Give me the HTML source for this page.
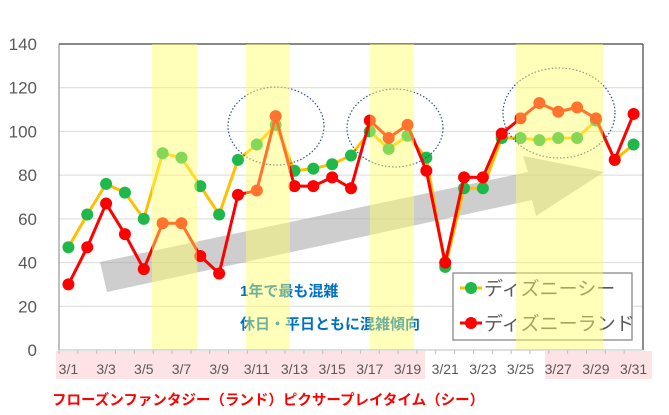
<!DOCTYPE html>
<html><head><meta charset="utf-8"><style>
body{margin:0;background:#fff}
svg{display:block;font-family:"Liberation Sans","Noto Sans CJK JP",sans-serif}
</style></head><body>
<svg id="chart" width="669" height="415" viewBox="0 0 669 415" xmlns="http://www.w3.org/2000/svg">
<g id="bg"></g>
<g id="grid"></g>
<g id="arrow"></g>
<g id="series"></g>
<g id="legend"></g>
<g id="ann"></g>
<g id="bands"></g>
<g id="axis"></g>
</svg>
<script>
const categories = ["3/1","3/2","3/3","3/4","3/5","3/6","3/7","3/8","3/9","3/10","3/11","3/12","3/13","3/14","3/15","3/16","3/17","3/18","3/19","3/20","3/21","3/22","3/23","3/24","3/25","3/26","3/27","3/28","3/29","3/30","3/31"];
const seaValues = [47,62,76,72,60,90,88,75,62,87,94,103,82,83,85,89,100,92,98,88,38,74,74,97,97,96,97,97,105,87,94];
const landValues = [30,47,67,53,37,58,58,43,35,71,73,107,75,75,79,74,105,97,103,82,40,79,79,99,106,113,109,111,106,87,108];
const yTicks = [0,20,40,60,80,100,120,140];
const seriesNames = ["ディズニーシー","ディズニーランド"];

const NS="http://www.w3.org/2000/svg";
const L=59,R=643,T=44,B=350,yMax=140;
const step=(R-L)/categories.length;
function xPos(i){return L+step*(i+0.5);}
function yPos(v){return B-(v/yMax)*(B-T);}
function mk(tag,attrs,parent,text){const e=document.createElementNS(NS,tag);for(const k in attrs)e.setAttribute(k,attrs[k]);if(text!==undefined)e.textContent=text;parent.appendChild(e);return e;}
const g=id=>document.getElementById(id);

let p1=mk('rect',{x:56,y:351,width:369,height:28,fill:'#fde3e6'},g('bg'));


let p2=mk('rect',{x:545,y:351,width:107,height:28,fill:'#fde3e6'},g('bg'));



yTicks.forEach(v=>{
  if(v>0&&v<yMax){let l=mk('line',{x1:L,x2:R,y1:yPos(v),y2:yPos(v),stroke:'#d9d9d9','stroke-width':1},g('grid'));
  
  }
  let t=mk('text',{x:37,y:yPos(v)+6,'text-anchor':'end','font-size':17,fill:'#595959'},g('axis'),String(v));
  
  
});
mk('line',{x1:L,x2:R,y1:T,y2:T,stroke:'#404040','stroke-width':1.2},g('grid'));
mk('line',{x1:R,x2:R,y1:T,y2:B,stroke:'#404040','stroke-width':1.2},g('grid'));
mk('line',{x1:L,x2:L,y1:T,y2:B,stroke:'#808080','stroke-width':1},g('grid'));
mk('line',{x1:L,x2:R,y1:B,y2:B,stroke:'#bfbfbf','stroke-width':1},g('axis'));
categories.forEach((c,i)=>{
  mk('line',{x1:L+step*i,x2:L+step*i,y1:B,y2:B+4,stroke:'#bfbfbf'},g('axis'));
  if(i%2===0){let t=mk('text',{x:xPos(i),y:374,'text-anchor':'middle','font-size':14,fill:'#595959'},g('axis'),c);
  
  }
});

let ar=mk('polygon',{points:'100,262 528,172 523,156 604,172 536,216 532,200 107,292',fill:'#a6a6a6','fill-opacity':0.55},g('arrow'));



function drawSeries(vals,lineColor,dotColor,name){
  const grp=mk('g',{},g('series'));
  
  
  mk('polyline',{points:vals.map((v,i)=>xPos(i)+','+yPos(v)).join(' '),fill:'none',stroke:lineColor,'stroke-width':3,'stroke-linejoin':'round'},grp);
  vals.forEach((v,i)=>{let c=mk('circle',{cx:xPos(i),cy:yPos(v),r:6,fill:dotColor},grp);
  
  });
}
drawSeries(seaValues,'#ffc000','#1fb84a','sea-series');
drawSeries(landValues,'#ff0000','#ff0000','land-series');

const lg=g('legend');
let box=mk('rect',{x:453,y:273,width:179,height:67,fill:'#fff',stroke:'#7f7f7f','stroke-width':1.2},lg);


[[288,'#ffc000','#1fb84a'],[323,'#ff0000','#ff0000']].forEach((e,k)=>{
  mk('line',{x1:460,x2:482,y1:e[0],y2:e[0],stroke:e[1],'stroke-width':3},lg);
  mk('circle',{cx:471,cy:e[0],r:6,fill:e[2]},lg);
  let t=mk('text',{x:484,y:e[0]+7,'font-size':19,fill:'#595959'},lg,seriesNames[k]);
  
  
});

const an=g('ann');
[[276,126,48,39],[395,128,48,39],[559,113,56,45]].forEach(c=>{
  let e=mk('ellipse',{cx:c[0],cy:c[1],rx:c[2],ry:c[3],fill:'none',stroke:'#2f4f8f','stroke-width':1.2,'stroke-dasharray':'1.5 2'},an);
  
  
});
let a1=mk('text',{x:240,y:296,'font-size':15,'font-weight':'bold',fill:'#0070c0'},an,'1年で最も混雑');


let a2=mk('text',{x:240,y:329,'font-size':15,'font-weight':'bold',fill:'#0070c0'},an,'休日・平日ともに混雑傾向');


let a3=mk('text',{x:52,y:405,'font-size':14.5,'font-weight':'bold',fill:'#ff0000'},an,'フローズンファンタジー（ランド）ピクサープレイタイム（シー）');



[[152,45],[246,44],[370,44],[516,87]].forEach(b=>{
  let r=mk('rect',{x:b[0],y:T,width:b[1],height:B-T,fill:'#ffff66','fill-opacity':0.45},g('bands'));
  
  
});
</script>
</body></html>
